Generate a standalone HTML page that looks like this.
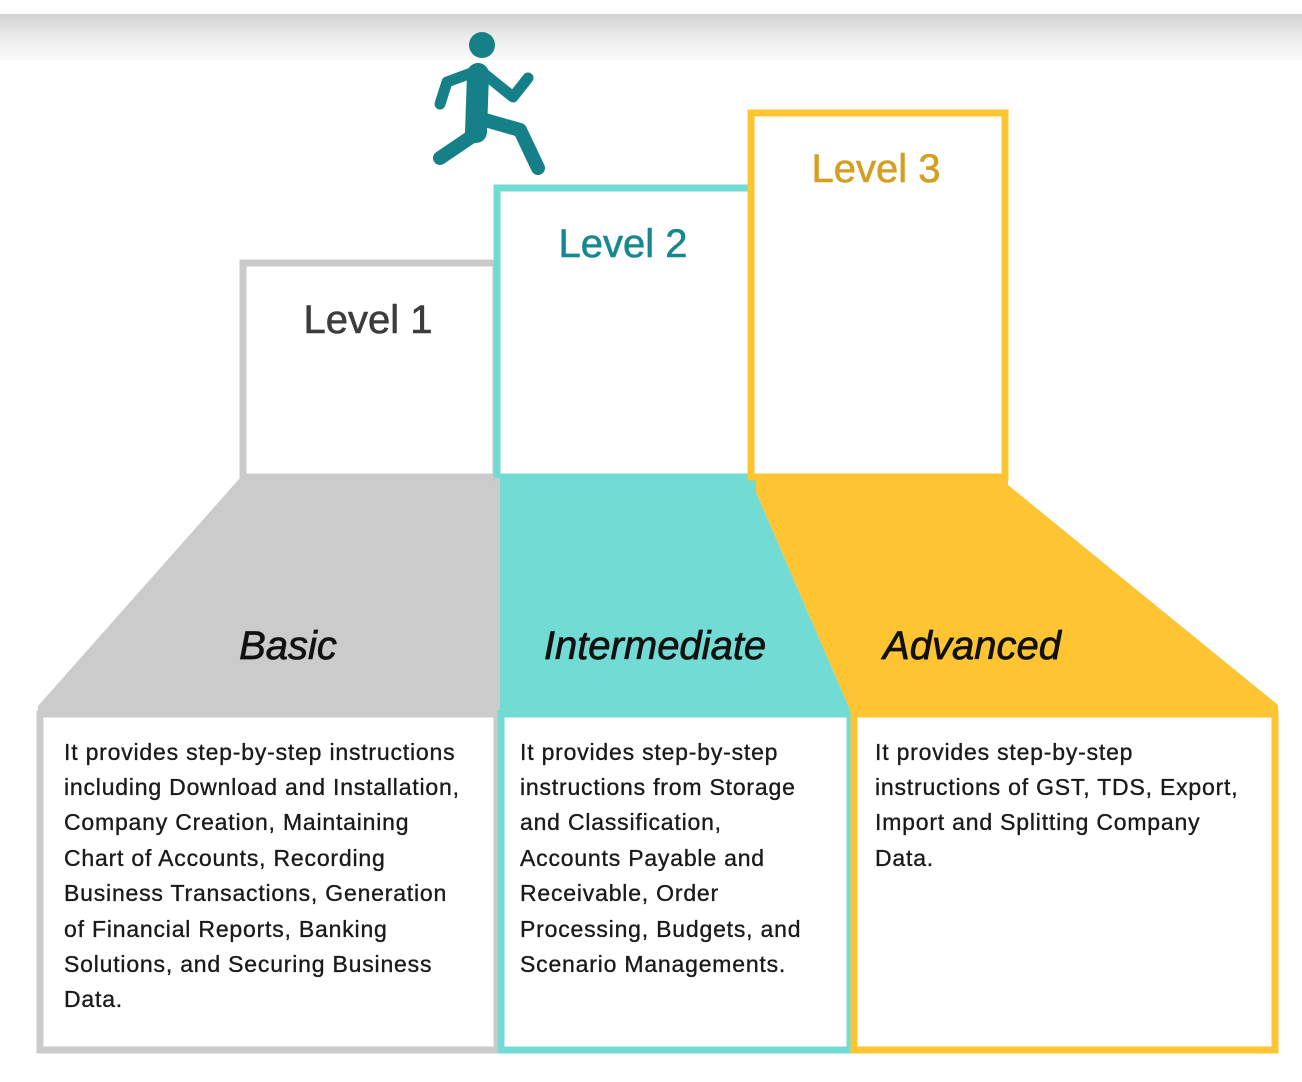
<!DOCTYPE html>
<html><head><meta charset="utf-8"><style>
html,body{margin:0;padding:0;background:#fff;width:1302px;height:1082px;overflow:hidden}
svg{display:block}
</style></head><body>
<svg width="1302" height="1082" viewBox="0 0 1302 1082" xmlns="http://www.w3.org/2000/svg">
<defs><linearGradient id="g" x1="0" y1="0" x2="0" y2="1">
<stop offset="0" stop-color="#d2d2d2"/><stop offset="0.5" stop-color="#ececec"/><stop offset="1" stop-color="#fafafa"/></linearGradient></defs>
<rect x="0" y="14" width="1302" height="46" fill="url(#g)"/>
<!-- runner -->
<g fill="none" stroke="#168089" stroke-linecap="round" stroke-linejoin="round">
<circle cx="482" cy="45" r="13" fill="#168089" stroke="none"/>
<path d="M478 74 L476 132" stroke-width="22"/>
<path d="M474 72 L447 82 L440 104" stroke-width="11"/>
<path d="M482 72 L513 97 L528 78" stroke-width="11"/>
<path d="M478 118 L520 130 L538 168" stroke-width="14"/>
<path d="M474 135 L440 158" stroke-width="14"/>
</g>
<!-- trapezoids -->
<polygon points="240,478 498,478 498,712 38,712 38,706" fill="#cbcbcb"/>
<polygon points="498,478 756,478 756,492 851,712 498,712" fill="#72dbd3"/>
<polygon points="756,478 1008,478 1008,485 1278,705 1278,712 851,712 756,492" fill="#fec431"/>
<!-- level boxes -->
<rect x="243" y="263" width="253" height="214" fill="#fff" stroke="#cbcbcb" stroke-width="7"/>
<rect x="497" y="188" width="255" height="289" fill="#fff" stroke="#72dbd3" stroke-width="7"/>
<rect x="751" y="113" width="254" height="364" fill="#fff" stroke="#fec431" stroke-width="7"/>
<rect x="494" y="478" width="6" height="234" fill="#cbcbcb"/>
<!-- bottom boxes -->
<rect x="40" y="714" width="457" height="336" fill="#fff" stroke="#cbcbcb" stroke-width="7"/>
<rect x="501" y="714" width="349" height="336" fill="#fff" stroke="#72dbd3" stroke-width="7"/>
<rect x="854" y="714" width="421" height="336" fill="#fff" stroke="#fec431" stroke-width="7"/>
<g font-family="Liberation Sans, sans-serif" font-size="40" stroke-width="0.6">
<text x="368" y="333" text-anchor="middle" fill="#3c3c3c" stroke="#3c3c3c">Level 1</text>
<text x="623" y="257" text-anchor="middle" fill="#17888d" stroke="#17888d">Level 2</text>
<text x="876" y="182" text-anchor="middle" fill="#d49f22" stroke="#d49f22">Level 3</text>
</g>
<g font-family="Liberation Sans, sans-serif" font-size="40" font-style="italic" fill="#111" stroke="#111" stroke-width="0.7">
<text x="288" y="659" text-anchor="middle">Basic</text>
<text x="655" y="659" text-anchor="middle">Intermediate</text>
<text x="972" y="659" text-anchor="middle">Advanced</text>
</g>
<g font-family="Liberation Sans, sans-serif" font-size="23" letter-spacing="0.8" fill="#1a1a1a" stroke="#1a1a1a" stroke-width="0.35">
<text x="64" y="760">It provides step-by-step instructions</text>
<text x="64" y="795">including Download and Installation,</text>
<text x="64" y="830">Company Creation, Maintaining</text>
<text x="64" y="866">Chart of Accounts, Recording</text>
<text x="64" y="901">Business Transactions, Generation</text>
<text x="64" y="937">of Financial Reports, Banking</text>
<text x="64" y="972">Solutions, and Securing Business</text>
<text x="64" y="1007">Data.</text>
<text x="520" y="760">It provides step-by-step</text>
<text x="520" y="795">instructions from Storage</text>
<text x="520" y="830">and Classification,</text>
<text x="520" y="866">Accounts Payable and</text>
<text x="520" y="901">Receivable, Order</text>
<text x="520" y="937">Processing, Budgets, and</text>
<text x="520" y="972">Scenario Managements.</text>
<text x="875" y="760">It provides step-by-step</text>
<text x="875" y="795">instructions of GST, TDS, Export,</text>
<text x="875" y="830">Import and Splitting Company</text>
<text x="875" y="866">Data.</text>
</g>
</svg>
</body></html>
